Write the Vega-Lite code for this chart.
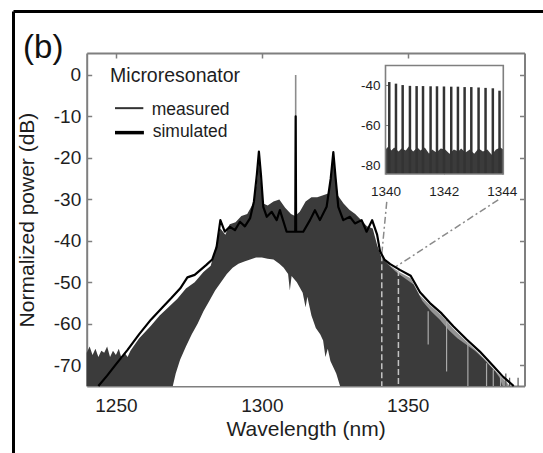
{
  "$schema": "https://vega.github.io/schema/vega-lite/v6.json",
  "width": 530,
  "height": 442,
  "autosize": {"type": "none"},
  "padding": {"left": 13, "top": 11, "right": 0, "bottom": 0},
  "background": "white",
  "config": {
    "view": {"stroke": null},
    "font": "Liberation Sans",
    "text": {"font": "Liberation Sans"},
    "axis": {
      "labelFont": "Liberation Sans",
      "titleFont": "Liberation Sans",
      "grid": false,
      "labelColor": "#1e1e1e",
      "titleColor": "#1e1e1e",
      "titleFontWeight": "normal",
      "domainColor": "#7f7f7f",
      "tickColor": "#7f7f7f",
      "labelFlush": false,
      "labelOverlap": false
    }
  },
  "datasets": {
    "one": [{}],
    "meas": [
      {"nm": 1240, "hi": -67}, {"nm": 1241, "hi": -65.5}, {"nm": 1242, "hi": -67.5}, {"nm": 1243, "hi": -66}, {"nm": 1244, "hi": -68}, {"nm": 1245, "hi": -66.5}, {"nm": 1246, "hi": -67}, {"nm": 1247, "hi": -65.5}, {"nm": 1248, "hi": -68}, {"nm": 1249, "hi": -66.5}, {"nm": 1250, "hi": -67.5}, {"nm": 1251, "hi": -66}, {"nm": 1252, "hi": -68.5}, {"nm": 1253, "hi": -67}, {"nm": 1254, "hi": -68}, {"nm": 1255, "hi": -66.5}, {"nm": 1256, "hi": -65.5}, {"nm": 1258, "hi": -63.5}, {"nm": 1260, "hi": -62}, {"nm": 1262, "hi": -60.5}, {"nm": 1265, "hi": -58}, {"nm": 1268, "hi": -56}, {"nm": 1271, "hi": -54}, {"nm": 1274, "hi": -51.5}, {"nm": 1277, "hi": -50}, {"nm": 1280, "hi": -47.5}, {"nm": 1282.5, "hi": -46}, {"nm": 1284, "hi": -42}, {"nm": 1285.8, "hi": -37}, {"nm": 1287.5, "hi": -38.5}, {"nm": 1289, "hi": -36}, {"nm": 1291, "hi": -35.5}, {"nm": 1293, "hi": -34}, {"nm": 1295, "hi": -33.5}, {"nm": 1297, "hi": -31}, {"nm": 1298.3, "hi": -26}, {"nm": 1299, "hi": -20}, {"nm": 1299.7, "hi": -26}, {"nm": 1300.5, "hi": -31}, {"nm": 1302, "hi": -31.5}, {"nm": 1304, "hi": -30.5}, {"nm": 1306, "hi": -30}, {"nm": 1308, "hi": -32}, {"nm": 1310, "hi": -33.5}, {"nm": 1311.4, "hi": -34}, {"nm": 1313, "hi": -33}, {"nm": 1315, "hi": -30.5}, {"nm": 1317, "hi": -29.5}, {"nm": 1319, "hi": -29.5}, {"nm": 1321, "hi": -29}, {"nm": 1323, "hi": -28.5}, {"nm": 1324, "hi": -22}, {"nm": 1324.5, "hi": -20}, {"nm": 1325, "hi": -22}, {"nm": 1326, "hi": -29}, {"nm": 1328, "hi": -31}, {"nm": 1330, "hi": -32.5}, {"nm": 1332, "hi": -33.5}, {"nm": 1334, "hi": -35}, {"nm": 1336, "hi": -36.5}, {"nm": 1338, "hi": -37}, {"nm": 1339.5, "hi": -41}, {"nm": 1341, "hi": -44}, {"nm": 1343, "hi": -45.5}, {"nm": 1346, "hi": -47.5}, {"nm": 1349, "hi": -49}, {"nm": 1352, "hi": -50.5}, {"nm": 1355, "hi": -54.5}, {"nm": 1358, "hi": -57}, {"nm": 1361, "hi": -59}, {"nm": 1364, "hi": -61.5}, {"nm": 1367, "hi": -63.5}, {"nm": 1370, "hi": -65}, {"nm": 1373, "hi": -66.5}, {"nm": 1376, "hi": -68.5}, {"nm": 1378, "hi": -70}, {"nm": 1380, "hi": -71.5}, {"nm": 1381.5, "hi": -73}, {"nm": 1382.5, "hi": -75}
    ],
    "fuzz": [
      {"nm": 1341, "hi": -43.5}, {"nm": 1344, "hi": -46}, {"nm": 1347, "hi": -47.5}, {"nm": 1351, "hi": -49}, {"nm": 1354, "hi": -53}, {"nm": 1357.6, "hi": -55.5}, {"nm": 1361.6, "hi": -58}, {"nm": 1365.6, "hi": -61.2}, {"nm": 1370.2, "hi": -64.3}, {"nm": 1374.7, "hi": -67.3}, {"nm": 1379.3, "hi": -70.8}, {"nm": 1382.7, "hi": -73.3}, {"nm": 1385, "hi": -75}
    ],
    "hole": [
      {"nm": 1269.5, "lo": -75}, {"nm": 1270.5, "lo": -72}, {"nm": 1272, "lo": -68.7}, {"nm": 1274, "lo": -65.5}, {"nm": 1276, "lo": -62.5}, {"nm": 1278, "lo": -60}, {"nm": 1280, "lo": -57}, {"nm": 1282, "lo": -54.5}, {"nm": 1284, "lo": -52}, {"nm": 1286, "lo": -50}, {"nm": 1288, "lo": -48}, {"nm": 1290, "lo": -46.5}, {"nm": 1292, "lo": -45.5}, {"nm": 1294, "lo": -45}, {"nm": 1296, "lo": -44.5}, {"nm": 1298, "lo": -44}, {"nm": 1300, "lo": -44}, {"nm": 1302, "lo": -44.3}, {"nm": 1304, "lo": -44.5}, {"nm": 1306, "lo": -45.5}, {"nm": 1307.5, "lo": -46.5}, {"nm": 1309, "lo": -48}, {"nm": 1309.6, "lo": -52}, {"nm": 1310.2, "lo": -48.5}, {"nm": 1312, "lo": -50}, {"nm": 1314, "lo": -52.5}, {"nm": 1315, "lo": -56}, {"nm": 1315.6, "lo": -53.5}, {"nm": 1317, "lo": -58}, {"nm": 1318.5, "lo": -61}, {"nm": 1320, "lo": -62.5}, {"nm": 1321, "lo": -64}, {"nm": 1321.8, "lo": -68}, {"nm": 1322.6, "lo": -66}, {"nm": 1323.5, "lo": -69}, {"nm": 1324.5, "lo": -70.5}, {"nm": 1325.5, "lo": -72}, {"nm": 1326.8, "lo": -75}
    ],
    "sim": [
      {"nm": 1244, "db": -75}, {"nm": 1247, "db": -72.5}, {"nm": 1250, "db": -69.8}, {"nm": 1254, "db": -66.3}, {"nm": 1258, "db": -62.5}, {"nm": 1262, "db": -59}, {"nm": 1266, "db": -56}, {"nm": 1269, "db": -53.8}, {"nm": 1272, "db": -51.5}, {"nm": 1274.5, "db": -48.8}, {"nm": 1277, "db": -48.2}, {"nm": 1279, "db": -47}, {"nm": 1281, "db": -45.8}, {"nm": 1283, "db": -44.5}, {"nm": 1284.5, "db": -41.5}, {"nm": 1285.8, "db": -35}, {"nm": 1287.3, "db": -37.8}, {"nm": 1289, "db": -36.6}, {"nm": 1290.8, "db": -37.4}, {"nm": 1292.5, "db": -35.4}, {"nm": 1294.2, "db": -36.5}, {"nm": 1296, "db": -34.5}, {"nm": 1297.3, "db": -30.5}, {"nm": 1298.3, "db": -24}, {"nm": 1299, "db": -18.5}, {"nm": 1299.7, "db": -24}, {"nm": 1300.5, "db": -31.8}, {"nm": 1301.7, "db": -34.2}, {"nm": 1303.4, "db": -33}, {"nm": 1305.1, "db": -35}, {"nm": 1306.2, "db": -32.6}, {"nm": 1308.5, "db": -37.8}, {"nm": 1311.45, "db": -37.8}, {"nm": 1311.6, "db": -10}, {"nm": 1311.75, "db": -37.8}, {"nm": 1314.2, "db": -37.8}, {"nm": 1316.5, "db": -35}, {"nm": 1318.2, "db": -32.6}, {"nm": 1319.9, "db": -35}, {"nm": 1322.2, "db": -31.8}, {"nm": 1323.6, "db": -25}, {"nm": 1324.5, "db": -18.6}, {"nm": 1325.3, "db": -25}, {"nm": 1326.2, "db": -31.8}, {"nm": 1327.9, "db": -35}, {"nm": 1330.2, "db": -34.2}, {"nm": 1331.9, "db": -35.8}, {"nm": 1334.2, "db": -35}, {"nm": 1335.9, "db": -37.8}, {"nm": 1337.8, "db": -35}, {"nm": 1339.5, "db": -38.5}, {"nm": 1340.5, "db": -42.5}, {"nm": 1342, "db": -44.5}, {"nm": 1344, "db": -45.6}, {"nm": 1347.3, "db": -47}, {"nm": 1351, "db": -48.4}, {"nm": 1354.2, "db": -52.4}, {"nm": 1357.6, "db": -55}, {"nm": 1361.6, "db": -57.5}, {"nm": 1365.6, "db": -60.6}, {"nm": 1370.2, "db": -63.8}, {"nm": 1374.7, "db": -66.7}, {"nm": 1379.3, "db": -70.2}, {"nm": 1382.7, "db": -72.8}, {"nm": 1386.3, "db": -75}
    ],
    "streaks": [
      {"nm": 1357, "top": -57, "bot": -65}, {"nm": 1363.3, "top": -59, "bot": -71.5}, {"nm": 1370.6, "top": -64.5, "bot": -75}, {"nm": 1377, "top": -69.5, "bot": -75}, {"nm": 1379.3, "top": -71, "bot": -75}, {"nm": 1381.8, "top": -72.5, "bot": -75}
    ],
    "spikes": [
      {"nm": 1383.6, "top": -72}, {"nm": 1384.9, "top": -73}, {"nm": 1387.8, "top": -73}
    ],
    "dashed": [
      {"nm": 1341.1, "top": -43.5}, {"nm": 1346.8, "top": -47}
    ],
    "comb": [
      {"nm": 1340.13, "top": -38.5}, {"nm": 1340.36, "top": -39.3}, {"nm": 1340.59, "top": -40}, {"nm": 1340.84, "top": -40.4}, {"nm": 1341.07, "top": -40.5}, {"nm": 1341.29, "top": -40.5}, {"nm": 1341.55, "top": -40.6}, {"nm": 1341.77, "top": -40.6}, {"nm": 1342.01, "top": -40.7}, {"nm": 1342.26, "top": -40.8}, {"nm": 1342.49, "top": -40.8}, {"nm": 1342.72, "top": -41}, {"nm": 1342.95, "top": -41}, {"nm": 1343.2, "top": -41.2}, {"nm": 1343.44, "top": -41.4}, {"nm": 1343.69, "top": -41.6}, {"nm": 1343.92, "top": -42.8}
    ],
    "floor": [
      {"nm": 1340.0, "top": -72}, {"nm": 1340.1, "top": -70.5}, {"nm": 1340.2, "top": -72.5}, {"nm": 1340.3, "top": -71}, {"nm": 1340.45, "top": -73}, {"nm": 1340.55, "top": -71.5}, {"nm": 1340.7, "top": -72.5}, {"nm": 1340.8, "top": -70.5}, {"nm": 1340.95, "top": -73}, {"nm": 1341.1, "top": -71}, {"nm": 1341.2, "top": -72.5}, {"nm": 1341.35, "top": -71}, {"nm": 1341.5, "top": -74}, {"nm": 1341.6, "top": -72}, {"nm": 1341.75, "top": -73.5}, {"nm": 1341.9, "top": -71.5}, {"nm": 1342.05, "top": -72}, {"nm": 1342.2, "top": -74}, {"nm": 1342.35, "top": -72}, {"nm": 1342.5, "top": -73}, {"nm": 1342.6, "top": -71.5}, {"nm": 1342.75, "top": -73.5}, {"nm": 1342.9, "top": -72}, {"nm": 1343.05, "top": -74}, {"nm": 1343.2, "top": -71.5}, {"nm": 1343.35, "top": -73}, {"nm": 1343.5, "top": -72}, {"nm": 1343.65, "top": -74.5}, {"nm": 1343.8, "top": -72}, {"nm": 1343.95, "top": -71}, {"nm": 1344.05, "top": -72}
    ]
  },
  "layer": [
    {
      "layer": [
        {
          "data": {"name": "fuzz"},
          "mark": {"type": "area", "color": "#939393"},
          "encoding": {
            "x": {
              "field": "nm", "type": "quantitative",
              "scale": {"domain": [1240, 1390], "range": [73.7, 511.5], "nice": false, "zero": false},
              "axis": {"orient": "bottom", "offset": -67, "values": [1250, 1300, 1350], "labelFontSize": 19, "labelPadding": 15, "tickSize": -5, "tickWidth": 1.5, "domainWidth": 2, "title": "Wavelength (nm)", "titleFontSize": 21, "titlePadding": 3, "labelExpr": "toString(datum.value)"}
            },
            "y": {
              "field": "hi", "type": "quantitative",
              "scale": {"domain": [-75, 5.3], "range": [375, 42], "nice": false, "zero": false},
              "axis": {"orient": "left", "offset": -73.7, "values": [-70, -60, -50, -40, -30, -20, -10, 0], "labelFontSize": 19, "labelPadding": 11, "tickSize": -5, "tickWidth": 1.5, "domainWidth": 2, "title": "Normalized power (dB)", "titleFontSize": 21, "titlePadding": 16, "labelExpr": "toString(datum.value)"}
            },
            "y2": {"datum": -75}
          }
        },
        {
          "data": {"name": "meas"},
          "mark": {"type": "area", "color": "#3b3b3b"},
          "encoding": {
            "x": {"field": "nm", "type": "quantitative"},
            "y": {"field": "hi", "type": "quantitative"},
            "y2": {"datum": -75}
          }
        },
        {
          "data": {"name": "hole"},
          "mark": {"type": "area", "color": "white"},
          "encoding": {
            "x": {"field": "nm", "type": "quantitative"},
            "y": {"field": "lo", "type": "quantitative"},
            "y2": {"datum": -75}
          }
        },
        {
          "data": {"name": "streaks"},
          "mark": {"type": "rule", "color": "#a9a9a9", "strokeWidth": 1.2},
          "encoding": {
            "x": {"field": "nm", "type": "quantitative"},
            "y": {"field": "top", "type": "quantitative"},
            "y2": {"field": "bot"}
          }
        },
        {
          "data": {"name": "spikes"},
          "mark": {"type": "rule", "color": "#555555", "strokeWidth": 1.2},
          "encoding": {
            "x": {"field": "nm", "type": "quantitative"},
            "y": {"field": "top", "type": "quantitative"},
            "y2": {"datum": -75}
          }
        },
        {
          "data": {"name": "dashed"},
          "mark": {"type": "rule", "color": "#c4c4c4", "strokeWidth": 1.5, "strokeDash": [6, 3]},
          "encoding": {
            "x": {"field": "nm", "type": "quantitative"},
            "y": {"field": "top", "type": "quantitative"},
            "y2": {"datum": -75}
          }
        },
        {
          "data": {"name": "one"},
          "mark": {"type": "rule", "color": "#8a8a8a", "strokeWidth": 1.5, "strokeDash": [7, 3, 2, 3]},
          "encoding": {
            "x": {"datum": 1342.8}, "y": {"datum": -30.6},
            "x2": {"datum": 1341.1}, "y2": {"datum": -43.2}
          }
        },
        {
          "data": {"name": "one"},
          "mark": {"type": "rule", "color": "#8a8a8a", "strokeWidth": 1.5, "strokeDash": [7, 3, 2, 3]},
          "encoding": {
            "x": {"datum": 1381.0}, "y": {"datum": -30.1},
            "x2": {"datum": 1345.8}, "y2": {"datum": -46.3}
          }
        },
        {
          "data": {"name": "one"},
          "mark": {"type": "rule", "color": "#8c8c8c", "strokeWidth": 1.6},
          "encoding": {
            "x": {"datum": 1311.6}, "y": {"datum": -30}, "y2": {"datum": 0}
          }
        },
        {
          "data": {"name": "sim"},
          "mark": {"type": "line", "color": "black", "strokeWidth": 2.2, "strokeJoin": "round"},
          "encoding": {
            "x": {"field": "nm", "type": "quantitative"},
            "y": {"field": "db", "type": "quantitative"}
          }
        },
        {
          "data": {"name": "one"},
          "mark": {"type": "rule", "color": "#333333", "strokeWidth": 2},
          "encoding": {
            "x": {"datum": 1249.7}, "x2": {"datum": 1259.4}, "y": {"datum": -8.0}
          }
        },
        {
          "data": {"name": "one"},
          "mark": {"type": "rule", "color": "black", "strokeWidth": 3.5},
          "encoding": {
            "x": {"datum": 1249.7}, "x2": {"datum": 1259.6}, "y": {"datum": -13.9}
          }
        },
        {
          "data": {"name": "one"},
          "mark": {"type": "text", "text": "Microresonator", "fontSize": 19.5, "align": "left", "baseline": "alphabetic", "color": "#1e1e1e"},
          "encoding": {"x": {"datum": 1248.0}, "y": {"datum": -1.6}}
        },
        {
          "data": {"name": "one"},
          "mark": {"type": "text", "text": "measured", "fontSize": 17.5, "align": "left", "baseline": "alphabetic", "color": "#1e1e1e"},
          "encoding": {"x": {"datum": 1262.3}, "y": {"datum": -9.65}}
        },
        {
          "data": {"name": "one"},
          "mark": {"type": "text", "text": "simulated", "fontSize": 17.5, "align": "left", "baseline": "alphabetic", "color": "#1e1e1e"},
          "encoding": {"x": {"datum": 1262.6}, "y": {"datum": -14.9}}
        },
        {
          "data": {"name": "one"},
          "mark": {"type": "text", "text": "(b)", "fontSize": 33, "align": "left", "baseline": "alphabetic", "color": "#111111"},
          "encoding": {"x": {"datum": 1218.2}, "y": {"datum": 4.1}}
        }
      ]
    },
    {
      "data": {"values": [{"nm": 1300, "db": -40}]},
      "mark": {"type": "point", "opacity": 0},
      "encoding": {
        "x": {
          "field": "nm", "type": "quantitative",
          "scale": {"domain": [1240, 1390], "range": [73.7, 511.5], "nice": false, "zero": false},
          "axis": {"orient": "top", "offset": -42, "values": [1250, 1300, 1350], "labels": false, "tickSize": -5, "tickWidth": 1.5, "domainWidth": 2, "title": null}
        },
        "y": {
          "field": "db", "type": "quantitative",
          "scale": {"domain": [-75, 5.3], "range": [375, 42], "nice": false, "zero": false},
          "axis": {"orient": "right", "offset": -18.5, "values": [-70, -60, -50, -40, -30, -20, -10, 0], "labels": false, "tickSize": -5, "tickWidth": 1.5, "domainWidth": 2, "title": null}
        }
      }
    },
    {
      "layer": [
        {
          "data": {"name": "floor"},
          "mark": {"type": "area", "color": "#3b3b3b"},
          "encoding": {
            "x": {
              "field": "nm", "type": "quantitative",
              "scale": {"domain": [1340, 1344.05], "range": [372.5, 490.3], "nice": false, "zero": false},
              "axis": {"orient": "bottom", "offset": -279, "values": [1340, 1342, 1344], "labelFontSize": 13.5, "labelPadding": 13, "tickSize": -3, "domain": false, "title": null, "labelExpr": "toString(datum.value)"}
            },
            "y": {
              "field": "top", "type": "quantitative",
              "scale": {"domain": [-84.1, -30.3], "range": [163, 54.5], "nice": false, "zero": false},
              "axis": {"orient": "left", "offset": -372.5, "values": [-80, -60, -40], "labelFontSize": 13.5, "labelPadding": 8.5, "tickSize": -3, "domain": false, "title": null, "labelExpr": "toString(datum.value)"}
            },
            "y2": {"datum": -84.1}
          }
        },
        {
          "data": {"name": "comb"},
          "mark": {"type": "rule", "color": "#333333", "strokeWidth": 2.5},
          "encoding": {
            "x": {"field": "nm", "type": "quantitative"},
            "y": {"field": "top", "type": "quantitative"},
            "y2": {"datum": -84.1}
          }
        },
        {
          "data": {"name": "one"},
          "mark": {"type": "rect", "fillOpacity": 0, "stroke": "#7f7f7f", "strokeWidth": 1.6},
          "encoding": {
            "x": {"datum": 1340}, "x2": {"datum": 1344.05},
            "y": {"datum": -30.3}, "y2": {"datum": -84.1}
          }
        }
      ]
    },
    {
      "data": {"values": [{"bx": 0, "by": 0}]},
      "mark": {"type": "point", "opacity": 0},
      "encoding": {
        "x": {
          "field": "bx", "type": "quantitative",
          "scale": {"domain": [0, 1], "nice": false, "zero": false},
          "axis": {"orient": "top", "offset": 0, "labels": false, "ticks": false, "domainColor": "black", "domainWidth": 3, "title": null}
        },
        "y": {
          "field": "by", "type": "quantitative",
          "scale": {"domain": [0, 1], "nice": false, "zero": false},
          "axis": {"orient": "left", "offset": 0, "labels": false, "ticks": false, "domainColor": "black", "domainWidth": 3, "title": null}
        }
      }
    }
  ],
  "resolve": {"scale": {"x": "independent", "y": "independent"}}
}
